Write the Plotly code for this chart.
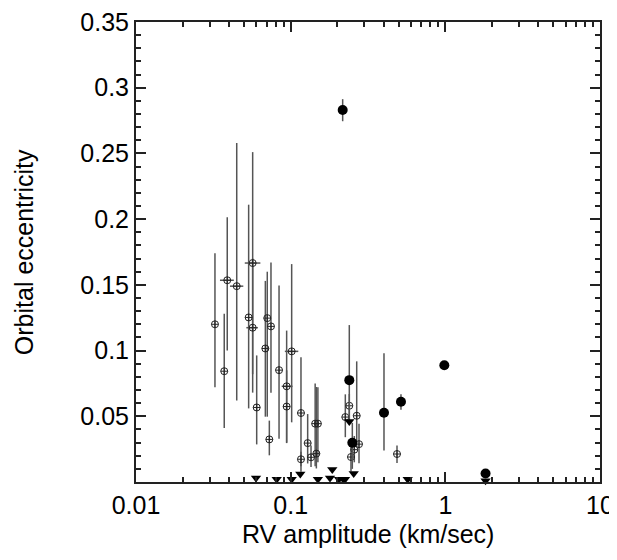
import plotly.graph_objects as go

# Open circles (circle with cross): RV amplitude, eccentricity, upper/lower error bounds
open_x = [0.0324, 0.0389, 0.0372, 0.0448, 0.0568, 0.0535, 0.0568, 0.0603, 0.0706, 0.0746,
          0.0686, 0.0728, 0.0841, 0.1015, 0.0942, 0.0942, 0.1166, 0.1166, 0.1288, 0.1354,
          0.1466, 0.144, 0.150, 0.2394, 0.2256, 0.2673, 0.2766, 0.2579, 0.2455, 0.487]
open_y = [0.120, 0.1535, 0.0843, 0.149, 0.1666, 0.1252, 0.1174, 0.0567, 0.1247, 0.1184,
          0.1016, 0.0324, 0.0851, 0.0994, 0.0728, 0.0574, 0.0525, 0.0173, 0.0296, 0.0188,
          0.0216, 0.0444, 0.0444, 0.058, 0.0494, 0.0504, 0.0288, 0.0246, 0.019, 0.0213]
open_y_hi = [0.174, 0.2015, 0.128, 0.258, 0.251, 0.211, 0.170, 0.0963, 0.160, 0.167,
             0.153, 0.0467, 0.1495, 0.1658, 0.1152, 0.085, 0.095, 0.023, 0.0517, 0.0278,
             0.0723, 0.075, 0.072, 0.067, 0.0667, 0.0918, 0.0444, 0.035, 0.028, 0.0278]
open_y_lo = [0.072, 0.100, 0.041, 0.062, 0.082, 0.056, 0.068, 0.0286, 0.0497, 0.068,
             0.0497, 0.0203, 0.0329, 0.0454, 0.0296, 0.030, 0.0078, 0.012, 0.0141, 0.0115,
             0.0103, 0.012, 0.015, 0.045, 0.0341, 0.0266, 0.0143, 0.015, 0.008, 0.0145]
# horizontal error bounds (None = no horizontal bar)
open_x_lo = [None, 0.0349, None, 0.0405, 0.0505, None, 0.0517, None, None, None,
             None, None, None, 0.0917, 0.0875, None, None, None, None, None,
             None, None, None, None, None, None, None, None, None, None]
open_x_hi = [None, 0.0429, None, 0.0494, 0.0637, None, 0.0614, None, None, None,
             None, None, None, 0.112, 0.1028, None, None, None, None, None,
             None, None, None, None, None, None, None, None, None, None]

# Filled circles
fill_x = [0.2169, 0.2394, 0.2504, 0.4012, 0.5166, 0.985, 1.82]
fill_y = [0.283, 0.0775, 0.0299, 0.0527, 0.061, 0.0888, 0.0065]
fill_y_hi = [0.2913, 0.1194, 0.045, 0.098, 0.0667, 0.0888, 0.0075]
fill_y_lo = [0.2745, 0.045, 0.010, 0.024, 0.0549, 0.0888, 0.0055]

# Upper limits (downward triangles)
lim_x = [0.0597, 0.0812, 0.1015, 0.1154, 0.150, 0.1858, 0.1796, 0.2053, 0.2187, 0.2246,
         0.2556, 0.2394, 0.5711, 1.82]
lim_y = [0.003, 0.002, 0.002, 0.006, 0.002, 0.0095, 0.003, 0.002, 0.002, 0.002,
         0.0065, 0.046, 0.002, 0.001]

x_tick_vals = [0.01, 0.1, 1, 10]
x_tick_text = ["0.01", "0.1", "1", "10"]
y_tick_vals = [0.05, 0.1, 0.15, 0.2, 0.25, 0.3, 0.35]
y_tick_text = ["0.05", "0.1", "0.15", "0.2", "0.25", "0.3", "0.35"]

FONT = "Liberation Sans, Arial, Helvetica, sans-serif"
FS = 25
ERR_COLOR = "#555555"

fig = go.Figure()

# horizontal error bars for open points
hx, hy = [], []
for x, y, lo, hi in zip(open_x, open_y, open_x_lo, open_x_hi):
    if lo is not None:
        hx += [lo, hi, None]
        hy += [y, y, None]
fig.add_trace(go.Scatter(x=hx, y=hy, mode="lines",
                         line=dict(color=ERR_COLOR, width=1.5), hoverinfo="skip",
                         showlegend=False))

fig.add_trace(go.Scatter(
    x=open_x, y=open_y, mode="markers",
    marker=dict(symbol="circle-cross-open", size=7, color="#222222", line=dict(width=1)),
    error_y=dict(type="data", symmetric=False,
                 array=[h - y for h, y in zip(open_y_hi, open_y)],
                 arrayminus=[y - l for l, y in zip(open_y_lo, open_y)],
                 color=ERR_COLOR, thickness=1.5, width=0),
    showlegend=False))

fig.add_trace(go.Scatter(
    x=fill_x, y=fill_y, mode="markers",
    marker=dict(symbol="circle", size=10, color="black"),
    error_y=dict(type="data", symmetric=False,
                 array=[h - y for h, y in zip(fill_y_hi, fill_y)],
                 arrayminus=[y - l for l, y in zip(fill_y_lo, fill_y)],
                 color=ERR_COLOR, thickness=1.5, width=0),
    showlegend=False))

fig.add_trace(go.Scatter(
    x=lim_x, y=lim_y, mode="markers",
    marker=dict(symbol="triangle-down", size=9, color="black"),
    showlegend=False, cliponaxis=False))

x_minor = [m * d for d in (0.01, 0.1, 1) for m in range(2, 10)]
y_minor = [i / 100 for i in range(0, 36)]

fig.update_xaxes(
    type="log", range=[-2, 1], automargin=False, ticklabeloverflow="allow",
    tickmode="array", tickvals=x_tick_vals, ticktext=x_tick_text,
    ticks="inside", ticklen=10, tickwidth=1.5, tickcolor="#222",
    minor=dict(tickmode="array", tickvals=x_minor, ticks="inside", ticklen=5,
               tickwidth=1.5, tickcolor="#222", showgrid=False),
    showline=True, linecolor="#222", linewidth=2, mirror="ticks",
    showgrid=False, zeroline=False,
    tickfont=dict(family=FONT, size=FS, color="black"),
)
fig.update_yaxes(
    range=[0, 0.35], automargin=False, ticklabeloverflow="allow",
    tickmode="array", tickvals=y_tick_vals, ticktext=y_tick_text,
    ticks="inside", ticklen=10, tickwidth=1.5, tickcolor="#222",
    minor=dict(tickmode="array", tickvals=y_minor, ticks="inside", ticklen=5,
               tickwidth=1.5, tickcolor="#222", showgrid=False),
    showline=True, linecolor="#222", linewidth=2, mirror="ticks",
    showgrid=False, zeroline=False,
    tickfont=dict(family=FONT, size=FS, color="black"),
)

# axis titles
fig.add_annotation(text="RV amplitude (km/sec)", xref="paper", yref="paper",
                   x=0.5, y=-0.114, xanchor="center", yanchor="middle",
                   showarrow=False, font=dict(family=FONT, size=FS, color="black"))
fig.add_annotation(text="Orbital eccentricity", xref="paper", yref="paper",
                   x=-0.241, y=0.5, xanchor="center", yanchor="middle", textangle=-90,
                   showarrow=False, font=dict(family=FONT, size=FS, color="black"))

# the page body keeps an 8px default margin, so the plot box is offset by 8px
fig.update_layout(
    width=617, height=560,
    margin=dict(l=128, r=25, t=14, b=86),
    paper_bgcolor="white", plot_bgcolor="white",
    font=dict(family=FONT, color="black"),
)

fig.write_html("out.html")
